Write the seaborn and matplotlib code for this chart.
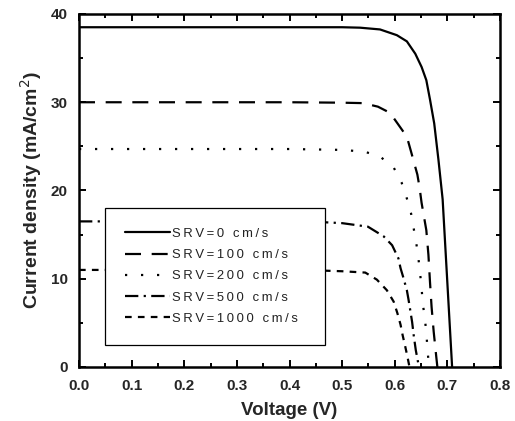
import matplotlib
matplotlib.use("Agg")
import matplotlib.pyplot as plt
import numpy as np
import pandas as pd
import seaborn as sns
from matplotlib.ticker import MultipleLocator

# ---- data ----
series_labels = ["SRV=0 cm/s", "SRV=100 cm/s", "SRV=200 cm/s", "SRV=500 cm/s", "SRV=1000 cm/s"]

v_srv0 = [0.0, 0.1, 0.2, 0.3, 0.4, 0.5, 0.534, 0.572, 0.604, 0.623, 0.639, 0.651, 0.660,
          0.667, 0.675, 0.683, 0.691, 0.700, 0.709]
j_srv0 = [38.5, 38.5, 38.5, 38.5, 38.5, 38.5, 38.45, 38.25, 37.6, 36.9, 35.5, 34.0, 32.5,
          30.3, 27.6, 23.5, 19.0, 9.5, 0.0]

v_srv100 = [0.0, 0.1, 0.2, 0.3, 0.4, 0.5, 0.540, 0.568, 0.591, 0.610, 0.623, 0.631, 0.637,
            0.643, 0.647, 0.651, 0.660, 0.664, 0.667, 0.670, 0.674, 0.679, 0.681]
j_srv100 = [30.0, 30.0, 30.0, 30.0, 30.0, 29.95, 29.9, 29.5, 28.8, 27.2, 26.1, 24.4, 23.1,
            21.8, 20.4, 18.6, 15.5, 12.7, 9.6, 6.8, 4.0, 1.1, 0.0]

v_srv200 = [0.0, 0.1, 0.2, 0.3, 0.4, 0.5, 0.542, 0.571, 0.598, 0.613, 0.623, 0.631, 0.636,
            0.641, 0.645, 0.648, 0.651, 0.653, 0.657, 0.660, 0.662, 0.665]
j_srv200 = [24.7, 24.7, 24.7, 24.7, 24.7, 24.6, 24.4, 23.9, 22.6, 20.9, 19.1, 17.4, 15.7,
            14.0, 12.3, 10.7, 9.0, 7.3, 5.6, 3.9, 2.2, 0.0]

v_srv500 = [0.0, 0.1, 0.2, 0.3, 0.4, 0.45, 0.5, 0.549, 0.579, 0.595, 0.607, 0.611, 0.616,
            0.623, 0.626, 0.629, 0.633, 0.636, 0.640, 0.646]
j_srv500 = [16.5, 16.5, 16.5, 16.5, 16.5, 16.45, 16.3, 15.9, 14.8, 13.8, 12.3, 11.2, 10.2,
            8.7, 7.7, 6.6, 5.1, 3.6, 1.9, 0.0]

v_srv1000 = [0.0, 0.1, 0.2, 0.3, 0.4, 0.45, 0.5, 0.544, 0.566, 0.585, 0.598, 0.605, 0.611,
             0.615, 0.620, 0.624, 0.628]
j_srv1000 = [11.0, 11.0, 11.0, 11.0, 11.0, 10.95, 10.85, 10.7, 9.9, 8.7, 7.4, 6.1, 4.8,
             3.6, 2.3, 1.2, 0.0]

x_ticks = [0.0, 0.1, 0.2, 0.3, 0.4, 0.5, 0.6, 0.7, 0.8]
y_ticks = [0, 10, 20, 30, 40]

volts = [v_srv0, v_srv100, v_srv200, v_srv500, v_srv1000]
currents = [j_srv0, j_srv100, j_srv200, j_srv500, j_srv1000]

# ---- style ----
sns.set_style("ticks")
plt.rcParams["font.family"] = ["Liberation Sans", "DejaVu Sans"]

line_styles = [
    "-",
    (0, (7.2, 4.8)),
    (0, (1.0, 6.2)),
    (0, (6.0, 2.4, 1.0, 2.4)),
    (0, (3.0, 2.8)),
]

fig = plt.figure(figsize=(5.15, 4.21), dpi=100)
fig.patch.set_facecolor("white")
ax = fig.add_axes([79 / 515, 54 / 421, 421 / 515, 353 / 421])


def spaced(s):
    return "\u2009".join(list(s)) + "  "


for lab, v, j, ls in zip(series_labels, volts, currents, line_styles):
    df = pd.DataFrame({"V": v, "J": j})
    sns.lineplot(data=df, x="V", y="J", ax=ax, sort=False, estimator=None,
                 color="black", linewidth=1.6, linestyle=ls, label=spaced(lab))

ax.set_xlim(0.0, 0.8)
ax.set_ylim(0, 40)
ax.set_xticks(x_ticks)
ax.set_yticks(y_ticks)
ax.xaxis.set_minor_locator(MultipleLocator(0.05))
ax.yaxis.set_minor_locator(MultipleLocator(5))
ax.set_xticklabels([f"{t:.1f}" for t in x_ticks], fontweight="bold", fontsize=11)
ax.set_yticklabels([str(t) for t in y_ticks], fontweight="bold", fontsize=11)

ax.tick_params(which="both", direction="in", top=True, right=True, width=1.4, color="black")
ax.tick_params(which="major", length=5)
ax.tick_params(which="minor", length=3)
ax.tick_params(axis="x", which="major", pad=9)
ax.tick_params(axis="y", which="major", pad=8)
for sp in ax.spines.values():
    sp.set_visible(True)
    sp.set_linewidth(1.8)
    sp.set_color("black")

ax.set_xlabel("Voltage (V)", fontweight="bold", fontsize=13.5, labelpad=6)
ax.set_ylabel("Current density (mA/cm$^2$)", fontweight="bold", fontsize=14, labelpad=5)

leg = ax.legend(loc="upper left", bbox_to_anchor=(0.0618, 0.450), borderaxespad=0,
                fancybox=False, frameon=True, edgecolor="black", facecolor="white",
                framealpha=1.0, fontsize=9.4,
                handlelength=3.5, handletextpad=0.15, borderpad=1.5, labelspacing=0.70)
leg.get_frame().set_linewidth(0.9)
for t in leg.get_texts():
    t.set_color("#222222")

fig.savefig("out.png", dpi=100, facecolor="white")
